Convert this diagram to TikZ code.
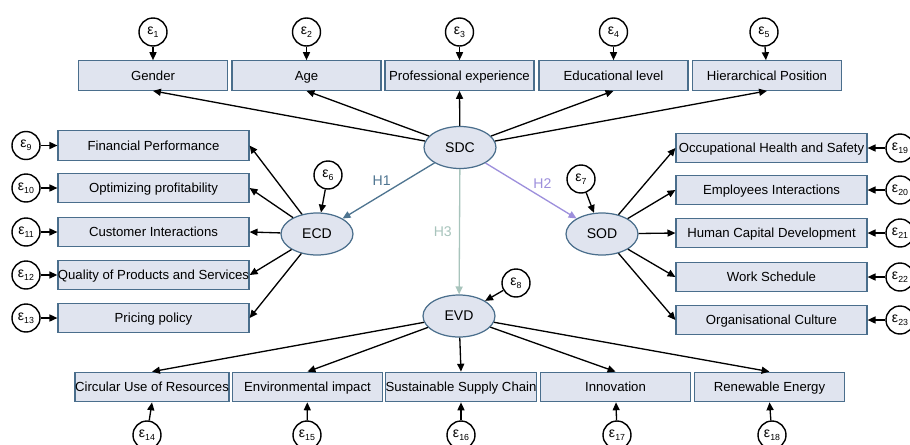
\documentclass[tikz,border=0pt]{standalone}
\usepackage{fontspec}
\setmainfont{Liberation Sans}
\usepackage{tikz}
\usetikzlibrary{arrows.meta, shapes.geometric}

\definecolor{boxfill}{HTML}{E0E4EF}
\definecolor{boxline}{HTML}{4A6E8C}
\definecolor{hone}{HTML}{4E7490}
\definecolor{htwo}{HTML}{9D8FDC}
\definecolor{hthree}{HTML}{A8C4BC}

\newcommand{\err}[1]{ε\raisebox{-0.35ex}{\fontsize{5}{5}\selectfont #1}}

\begin{document}
\begin{tikzpicture}[x=0.02cm, y=-0.02cm,
    latent/.style={ellipse, draw=boxline, fill=boxfill, line width=0.7pt, minimum width=1.44cm, minimum height=0.84cm, inner sep=0pt, font=\fontsize{8}{9}\selectfont},
    obs/.style={rectangle, draw=boxline, fill=boxfill, line width=0.7pt, minimum height=0.59cm, inner sep=0pt, text height=0.72em, text depth=0.2em, font=\fontsize{7.5}{9}\selectfont},
    topbox/.style={obs, minimum width=2.98cm},
    sidebox/.style={obs, minimum width=3.82cm},
    botbox/.style={obs, minimum width=3.0cm},
    errc/.style={circle, draw, line width=0.8pt, minimum size=0.56cm, inner sep=0pt, fill=white, font=\fontsize{8}{8}\selectfont},
    arrow/.style={-{Triangle[length=4.5pt, width=4pt]}, line width=0.75pt},
    hyp/.style={font=\fontsize{8}{9}\selectfont, inner sep=1pt}
]
\useasboundingbox (0,0) rectangle (910,444);

% Latent constructs
\node[latent] (sdc) at (460,147.5) {SDC};
\node[latent] (ecd) at (317,234) {ECD};
\node[latent] (sod) at (602,234) {SOD};
\node[latent] (evd) at (459,316) {EVD};

% SDC indicators (top row)
\node[topbox] (gender) at (153,75.5) {Gender};
\node[topbox] (age) at (306.5,75.5) {Age};
\node[topbox] (profexp) at (459.5,75.5) {Professional experience};
\node[topbox] (edulevel) at (613.5,75.5) {Educational level};
\node[topbox] (hierpos) at (767,75.5) {Hierarchical Position};

\node[errc] (e1) at (153,32) {\err{1}};
\node[errc] (e2) at (306.5,32) {\err{2}};
\node[errc] (e3) at (459.5,32) {\err{3}};
\node[errc] (e4) at (613.5,32) {\err{4}};
\node[errc] (e5) at (764,32) {\err{5}};

% ECD indicators (left column)
\node[sidebox] (finperf) at (153.5,145.5) {Financial Performance};
\node[sidebox] (optprof) at (153.5,188) {Optimizing profitability};
\node[sidebox] (custint) at (153.5,232) {Customer Interactions};
\node[sidebox] (quality) at (153.5,275) {Quality of Products and Services};
\node[sidebox] (pricing) at (153.5,318) {Pricing policy};

\node[errc] (e9) at (26,145.5) {\err{9}};
\node[errc] (e10) at (26,188) {\err{10}};
\node[errc] (e11) at (26,232) {\err{11}};
\node[errc] (e12) at (26,275) {\err{12}};
\node[errc] (e13) at (26,318) {\err{13}};

% SOD indicators (right column)
\node[sidebox] (ohs) at (771.5,148) {Occupational Health and Safety};
\node[sidebox] (empint) at (771.5,190) {Employees Interactions};
\node[sidebox] (humcap) at (771.5,233) {Human Capital Development};
\node[sidebox] (worksch) at (771.5,277) {Work Schedule};
\node[sidebox] (orgcult) at (771.5,320) {Organisational Culture};

\node[errc] (e19) at (900,148) {\err{19}};
\node[errc] (e20) at (900,190) {\err{20}};
\node[errc] (e21) at (900,233) {\err{21}};
\node[errc] (e22) at (900,277) {\err{22}};
\node[errc] (e23) at (900,320) {\err{23}};

% EVD indicators (bottom row)
\node[botbox] (circular) at (152,387) {Circular Use of Resources};
\node[botbox] (envimp) at (307.5,387) {Environmental impact};
\node[botbox] (supply) at (461,387) {Sustainable Supply Chain};
\node[botbox] (innov) at (615.5,387) {Innovation};
\node[botbox] (renew) at (769.5,387) {Renewable Energy};

\node[errc] (e14) at (147,435) {\err{14}};
\node[errc] (e15) at (307,435) {\err{15}};
\node[errc] (e16) at (461,435) {\err{16}};
\node[errc] (e17) at (617,435) {\err{17}};
\node[errc] (e18) at (772,435) {\err{18}};

% Structural errors
\node[errc] (e6) at (328,175) {\err{6}};
\node[errc] (e7) at (581,179) {\err{7}};
\node[errc] (e8) at (516,283) {\err{8}};

% Hypotheses
\path[arrow]
    (sdc) edge[hone] node[hyp, pos=0.45, above left] {H1} (ecd)
    (sdc) edge[htwo] node[hyp, pos=0.5, above right] {H2} (sod)
    (sdc) edge[hthree] node[hyp, pos=0.5, left, xshift=-3pt] {H3} (evd);

% Loadings
\path[arrow]
    (sdc) edge (gender.south)
    (sdc) edge (age.south)
    (sdc) edge (profexp.south)
    (sdc) edge (edulevel.south)
    (sdc) edge (hierpos.south)
    (ecd) edge (finperf.east)
    (ecd) edge (optprof.east)
    (ecd) edge (custint.east)
    (ecd) edge (quality.east)
    (ecd) edge (pricing.east)
    (sod) edge (ohs.west)
    (sod) edge (empint.west)
    (sod) edge (humcap.west)
    (sod) edge (worksch.west)
    (sod) edge (orgcult.west)
    (evd) edge (circular.north)
    (evd) edge (envimp.north)
    (evd) edge (supply.north)
    (evd) edge (innov.north)
    (evd) edge (renew.north);

% Error terms
\path[arrow]
    (e1) edge (gender) (e2) edge (age) (e3) edge (profexp)
    (e4) edge (edulevel) (e5) edge (hierpos)
    (e9) edge (finperf) (e10) edge (optprof) (e11) edge (custint)
    (e12) edge (quality) (e13) edge (pricing)
    (e19) edge (ohs) (e20) edge (empint) (e21) edge (humcap)
    (e22) edge (worksch) (e23) edge (orgcult)
    (e14) edge (circular.south) (e15) edge (envimp) (e16) edge (supply)
    (e17) edge (innov) (e18) edge (renew.south)
    (e6) edge (ecd) (e7) edge (sod) (e8) edge (evd);

\end{tikzpicture}
\end{document}
